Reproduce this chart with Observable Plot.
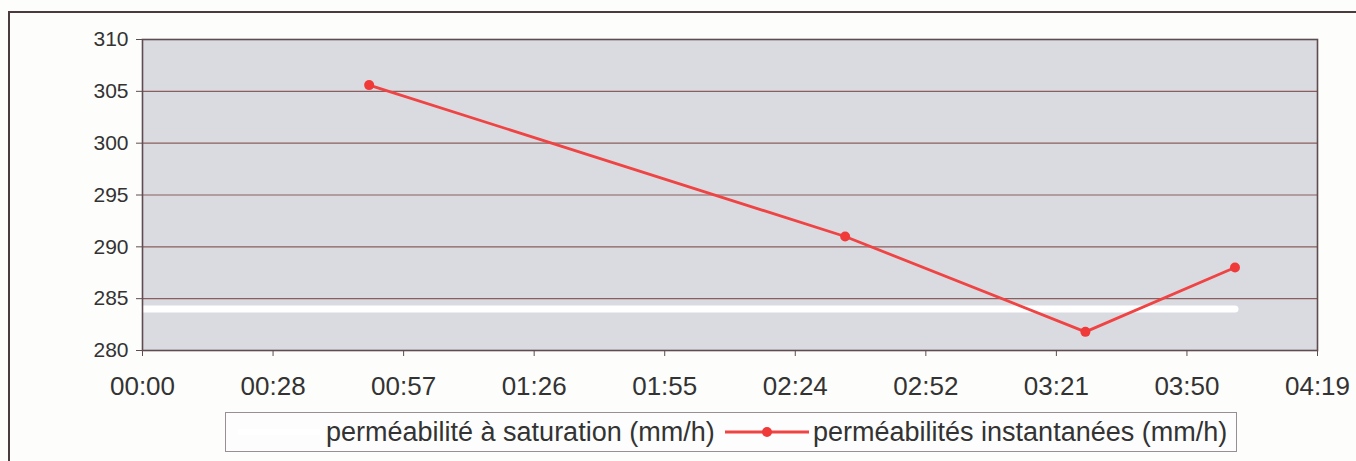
<!DOCTYPE html>
<html>
<head>
<meta charset="utf-8">
<script src="https://cdn.jsdelivr.net/npm/d3@7"></script>
<script src="https://cdn.jsdelivr.net/npm/@observablehq/plot@0.6"></script>
<style>
  html, body { margin: 0; padding: 0; background: #fdfdfb; }
  #wrap { position: relative; width: 1356px; height: 461px; overflow: hidden; font-family: "Liberation Sans", Arial, sans-serif; }
  #frame { position: absolute; left: 8px; top: 11px; width: 1400px; height: 500px; border: 2px solid #4a3c3c; box-sizing: border-box; }
  #chart { position: absolute; left: 0; top: 0; }
  #legend { position: absolute; left: 225px; top: 412px; width: 1012px; height: 40px; border: 1px solid #9a8e96; box-sizing: border-box; background: #fdfdfd; }
  .lg { position: absolute; top: 0; height: 38px; line-height: 38px; font-size: 27px; color: #333; white-space: nowrap; }
</style>
</head>
<body>
<div id="wrap">
  <div id="frame"></div>
  <div id="chart"></div>
  <div id="legend"></div>
</div>
<script>
// Data
const times = ["00:50", "02:35", "03:28", "04:01"];
const instant = [305.6, 291.0, 281.8, 288.0];
const saturationValue = 284;
const saturationTimes = ["00:00", "04:01"];
const xTickLabels = ["00:00", "00:28", "00:57", "01:26", "01:55", "02:24", "02:52", "03:21", "03:50", "04:19"];
const yTicks = [280, 285, 290, 295, 300, 305, 310];
const seriesNames = ["perméabilité à saturation (mm/h)", "perméabilités instantanées (mm/h)"];

const toMin = s => { const [h, m] = s.split(":").map(Number); return h * 60 + m; };
const step = 28.8; // 0.02 day
const xTickVals = xTickLabels.map((_, i) => i * step);

const pts = times.map((t, i) => ({t: toMin(t), v: instant[i]}));
const sat = saturationTimes.map(t => ({t: toMin(t), v: saturationValue}));

const W = 1356, H = 400;
const plot = Plot.plot({
  width: W, height: H,
  marginLeft: 142, marginRight: 39, marginTop: 39, marginBottom: 50,
  style: {background: "transparent", fontFamily: "Liberation Sans, Arial, sans-serif", color: "#333"},
  x: {domain: [0, xTickVals[xTickVals.length - 1]], label: null},
  y: {domain: [280, 310], label: null},
  marks: [
    Plot.frame({fill: "#d9dbe0", stroke: null}),
    Plot.gridY(yTicks.slice(1, -1), {stroke: "#8a5e5e", strokeOpacity: 1, strokeWidth: 1.2}),
    Plot.line(sat, {x: "t", y: "v", stroke: "#ffffff", strokeWidth: 7}),
    Plot.frame({stroke: "#5e4c50", strokeWidth: 1.6}),
    Plot.axisX({ticks: xTickVals, tickFormat: (d, i) => xTickLabels[i], fontSize: 26, tickSize: 6, tickPadding: 20, stroke: "#5e4c50"}),
    Plot.axisY({ticks: yTicks, fontSize: 21, tickSize: 6, tickPadding: 8, stroke: "#5e4c50"}),
    Plot.line(pts, {x: "t", y: "v", stroke: "#f04343", strokeWidth: 2.8}),
    Plot.dot(pts, {x: "t", y: "v", fill: "#f03a3a", r: 5})
  ]
});
document.getElementById("chart").appendChild(plot);

// Legend
const lg = document.getElementById("legend");
lg.innerHTML = `
  <div class="lg" style="left:100px">${seriesNames[0]}</div>
  <svg style="position:absolute;left:10px;top:0" width="86" height="38"><line x1="2" x2="84" y1="19" y2="19" stroke="#ffffff" stroke-width="6"/></svg>
  <svg style="position:absolute;left:497px;top:0" width="88" height="38"><line x1="2" x2="86" y1="19" y2="19" stroke="#f04343" stroke-width="2.8"/><circle cx="44" cy="19" r="5" fill="#f03a3a"/></svg>
  <div class="lg" style="left:587px">${seriesNames[1]}</div>`;
</script>
</body>
</html>
